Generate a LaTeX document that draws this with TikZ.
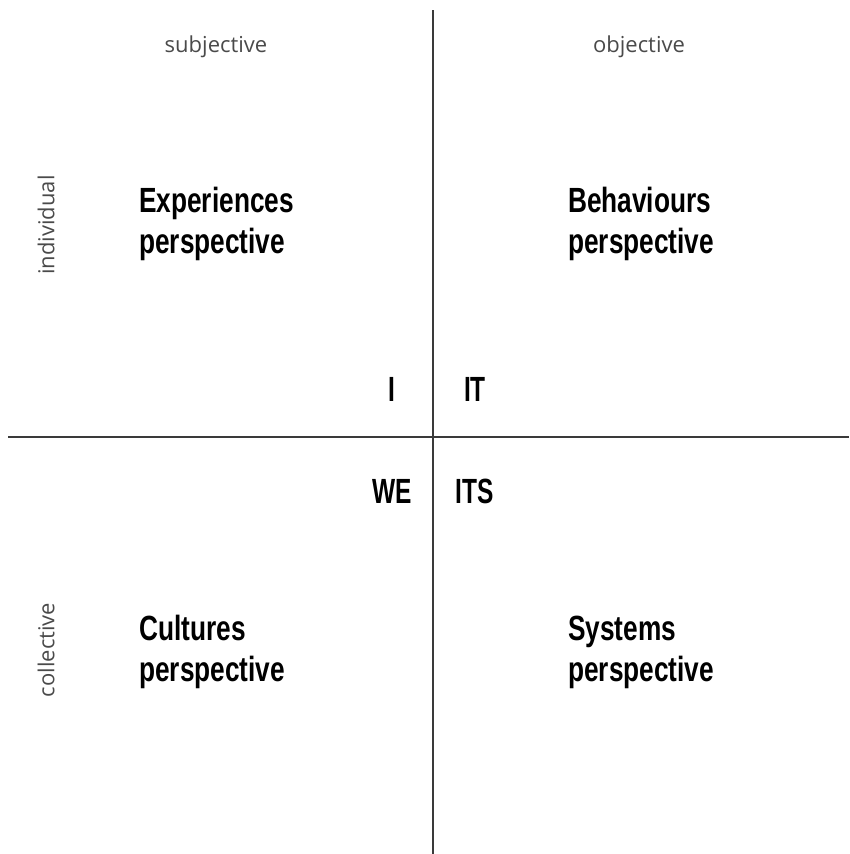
\documentclass[tikz,border=0pt]{standalone}
\usepackage{fontspec}
\setmainfont{Liberation Sans}
\newfontfamily\bigfont[FakeStretch=0.75]{Liberation Sans Bold}
\newfontfamily\pronfont[FakeStretch=0.7]{Liberation Sans Bold}
\newfontfamily\smallfont{Open Sans}
\definecolor{axisgray}{HTML}{3A3A3A}
\definecolor{labelgray}{HTML}{4A4A4A}
\tikzset{
  axis/.style={draw=axisgray, line width=1.5pt},
  quad/.style={anchor=base west, inner sep=0pt, align=left, font=\bigfont\fontsize{35}{41}\selectfont, text=black},
  pron/.style={anchor=base, inner sep=0pt, font=\pronfont\fontsize{35}{41}\selectfont, text=black},
  side/.style={inner sep=0pt, font=\smallfont\fontsize{22}{26}\selectfont, text=labelgray},
}
\begin{document}
\begin{tikzpicture}[x=1pt,y=-1pt]
\useasboundingbox (0,0) rectangle (849,854);
\coordinate (vtop) at (433,10);
\coordinate (vbot) at (433,854);
\coordinate (hl) at (8,437);
\coordinate (hr) at (849,437);
\draw[axis] (vtop) -- (vbot);
\draw[axis] (hl) -- (hr);
\node[side] (subj) at (216,47) {subjective};
\node[side] (obj) at (639,47) {objective};
\node[side, rotate=90] (ind) at (46,225) {individual};
\node[side, rotate=90] (coll) at (46,650) {collective};
\node[quad] (exp) at (139,253) {Experiences\\perspective};
\node[quad] (beh) at (568,253) {Behaviours\\perspective};
\node[quad] (cul) at (139,681) {Cultures\\perspective};
\node[quad] (sys) at (568,681) {Systems\\perspective};
\node[pron] (i) at (392,401) {I};
\node[pron] (it) at (475,401) {IT};
\node[pron] (we) at (392,503) {WE};
\node[pron] (its) at (475,503) {ITS};
\end{tikzpicture}
\end{document}
